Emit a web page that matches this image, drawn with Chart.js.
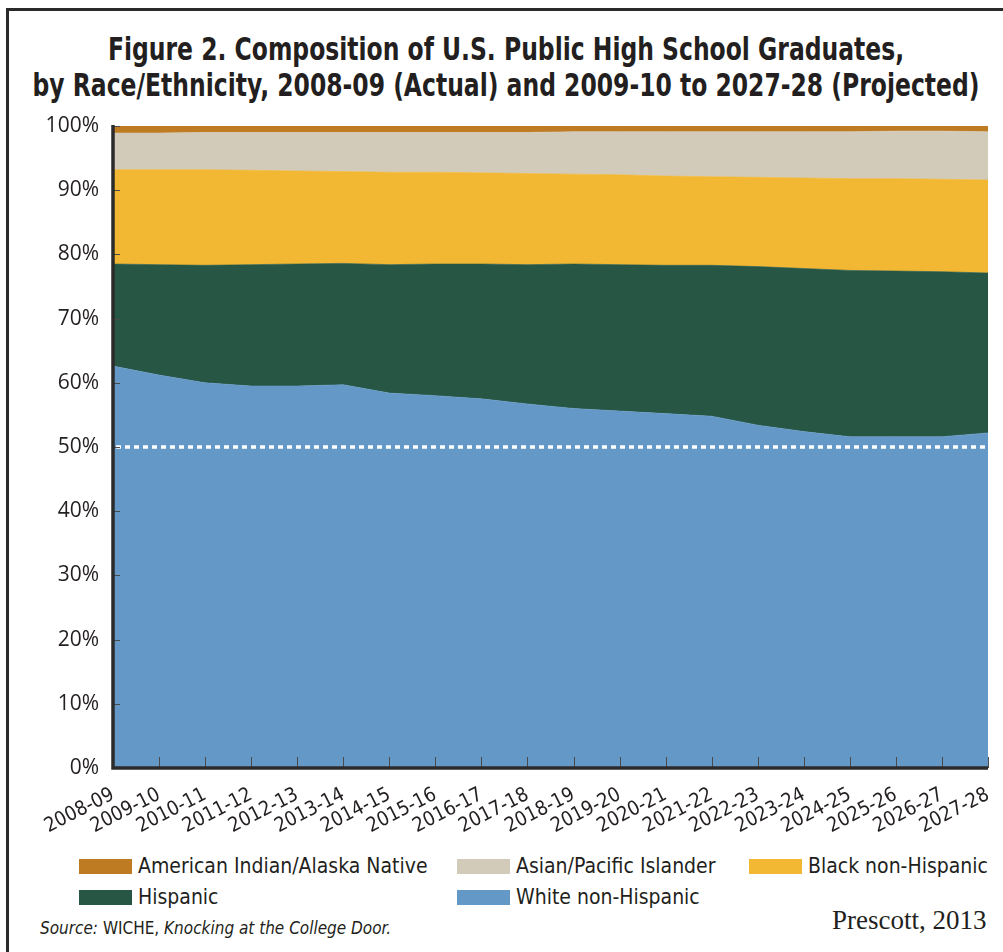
<!DOCTYPE html>
<html>
<head>
<meta charset="utf-8">
<script src="https://cdn.jsdelivr.net/npm/chart.js@4"></script>
<style>
  body { margin: 0; width: 1003px; height: 952px; background: #fff; position: relative; overflow: hidden; color: #231f20; }
  .frameTop { position: absolute; left: 6px; top: 8px; width: 997px; height: 3px; background: #2a2a2a; }
  .frameLeft { position: absolute; left: 6px; top: 8px; width: 3px; height: 944px; background: #2a2a2a; }
  #title { position: absolute; left: -144px; top: 31px; width: 1300px; text-align: center; font-family: "DejaVu Sans Condensed", "Liberation Sans Narrow", sans-serif; font-weight: bold; font-size: 32px; line-height: 36px; transform: scaleX(0.815); transform-origin: 50% 0; white-space: nowrap; }
  #wrap { position: absolute; left: 0; top: 0; width: 1003px; height: 850px; }
  .key { position: absolute; font-family: "DejaVu Sans Condensed", "Liberation Sans Narrow", sans-serif; font-size: 21px; line-height: 24px; white-space: nowrap; }
  .key span { display: inline-block; width: 53px; height: 15px; margin-right: 6px; vertical-align: -1px; }
  #source { position: absolute; left: 40px; top: 918px; font-family: "DejaVu Sans Condensed", "Liberation Sans Narrow", sans-serif; font-size: 17px; white-space: nowrap; }
  #credit { position: absolute; left: 832px; top: 905px; font-family: "Liberation Serif", serif; font-size: 27px; white-space: nowrap; }
</style>
</head>
<body>
<div class="frameTop"></div>
<div class="frameLeft"></div>
<div id="title">Figure 2. Composition of U.S. Public High School Graduates,<br>by Race/Ethnicity, 2008-09 (Actual) and 2009-10 to 2027-28 (Projected)</div>
<div id="wrap"><canvas id="areaChart"></canvas></div>
<div id="legendBox"></div>
<div id="source"><i>Source:</i> WICHE, <i>Knocking at the College Door.</i></div>
<div id="credit">Prescott, 2013</div>

<script>
const years = ["2008-09", "2009-10", "2010-11", "2011-12", "2012-13", "2013-14", "2014-15",
  "2015-16", "2016-17", "2017-18", "2018-19", "2019-20", "2020-21", "2021-22", "2022-23",
  "2023-24", "2024-25", "2025-26", "2026-27", "2027-28"];

// share of graduates, percent
const white    = [62.6, 61.2, 60.0, 59.5, 59.5, 59.7, 58.4, 58.0, 57.5, 56.7, 56.0, 55.6, 55.2, 54.8, 53.4, 52.4, 51.6, 51.6, 51.6, 52.2];
const hispanic = [15.9, 17.2, 18.3, 18.9, 19.0, 18.9, 20.0, 20.5, 21.0, 21.7, 22.5, 22.8, 23.1, 23.5, 24.7, 25.4, 25.9, 25.8, 25.7, 24.9];
const black    = [14.7, 14.8, 14.9, 14.7, 14.5, 14.3, 14.4, 14.3, 14.2, 14.2, 14.0, 14.0, 13.9, 13.8, 13.9, 14.1, 14.3, 14.4, 14.4, 14.5];
const asian    = [5.7, 5.7, 5.8, 5.9, 6.0, 6.1, 6.2, 6.2, 6.3, 6.4, 6.6, 6.7, 6.9, 7.0, 7.1, 7.2, 7.3, 7.4, 7.5, 7.5];
const amIndian = [1.1, 1.1, 1.0, 1.0, 1.0, 1.0, 1.0, 1.0, 1.0, 1.0, 0.9, 0.9, 0.9, 0.9, 0.9, 0.9, 0.9, 0.8, 0.8, 0.9];

const yTicks = [0, 10, 20, 30, 40, 50, 60, 70, 80, 90, 100];

const colors = {
  amIndian: "#bf7b22",
  asian: "#d3cbb9",
  black: "#f2b733",
  hispanic: "#275744",
  white: "#6498c6"
};

// legend in the printed order (3 columns)
const legendItems = [
  { label: "American Indian/Alaska Native", color: colors.amIndian, left: 79, top: 854 },
  { label: "Asian/Pacific Islander", color: colors.asian, left: 457, top: 854 },
  { label: "Black non-Hispanic", color: colors.black, left: 749, top: 854 },
  { label: "Hispanic", color: colors.hispanic, left: 79, top: 885 },
  { label: "White non-Hispanic", color: colors.white, left: 457, top: 885 }
];

const legendBox = document.getElementById("legendBox");
legendBox.innerHTML = legendItems.reduce((acc, item) => {
  return acc += `<div class="key" style="left:${item.left}px;top:${item.top}px"><span style="background:${item.color}"></span>${item.label}</div>`;
}, "");

function layer(label, values, color, fill) {
  return {
    label: label,
    data: values,
    backgroundColor: color,
    borderColor: color,
    borderWidth: 0.6,
    pointRadius: 0,
    pointHoverRadius: 0,
    tension: 0,
    fill: fill
  };
}

// dotted 50% line, inside ticks and the heavy axis lines go on top of the areas
const chartExtras = {
  id: "chartExtras",
  afterDatasetsDraw(chart) {
    const { ctx, chartArea: a, scales: { x, y } } = chart;
    ctx.save();

    const y50 = y.getPixelForValue(50);
    ctx.strokeStyle = "#ffffff";
    ctx.lineWidth = 3.5;
    ctx.setLineDash([5, 4]);
    ctx.beginPath();
    ctx.moveTo(a.left + 3, y50);
    ctx.lineTo(a.right, y50);
    ctx.stroke();
    ctx.setLineDash([]);

    ctx.strokeStyle = "#4a4a4a";
    ctx.lineWidth = 1;
    ctx.beginPath();
    x.ticks.forEach((t, i) => {
      const px = Math.round(x.getPixelForTick(i)) + 0.5;
      ctx.moveTo(px, a.bottom);
      ctx.lineTo(px, a.bottom - 11);
    });
    y.ticks.forEach((t, i) => {
      const py = Math.round(y.getPixelForTick(i)) + 0.5;
      ctx.moveTo(a.left, py);
      ctx.lineTo(a.left + 7, py);
    });
    ctx.stroke();

    ctx.strokeStyle = "#2b2b2b";
    ctx.lineWidth = 3.5;
    ctx.beginPath();
    ctx.moveTo(a.left, a.top - 1);
    ctx.lineTo(a.left, a.bottom);
    ctx.lineTo(a.right, a.bottom);
    ctx.stroke();
    ctx.restore();
  }
};

const ctx = document.getElementById("areaChart");
const chart = new Chart(ctx, {
  type: "line",
  data: {
    labels: years,
    datasets: [
      layer("White non-Hispanic", white, colors.white, "origin"),
      layer("Hispanic", hispanic, colors.hispanic, "-1"),
      layer("Black non-Hispanic", black, colors.black, "-1"),
      layer("Asian/Pacific Islander", asian, colors.asian, "-1"),
      layer("American Indian/Alaska Native", amIndian, colors.amIndian, "-1")
    ]
  },
  options: {
    responsive: true,
    maintainAspectRatio: false,
    animation: false,
    layout: { padding: { top: 126, right: 15, left: 0, bottom: 0 } },
    plugins: {
      legend: { display: false },
      title: { display: false },
      tooltip: { enabled: false }
    },
    scales: {
      x: {
        offset: false,
        grid: { display: false, drawTicks: false },
        border: { display: false },
        ticks: {
          autoSkip: false,
          minRotation: 27,
          maxRotation: 27,
          padding: 15,
          color: "#231f20",
          font: { family: "DejaVu Sans Condensed, Liberation Sans Narrow, sans-serif", size: 20 }
        },
        afterFit(scale) {
          scale.height = 82;
          scale.paddingLeft = 0;
          scale.paddingRight = 0;
        }
      },
      y: {
        stacked: true,
        min: 0,
        max: 100,
        afterBuildTicks(scale) { scale.ticks = yTicks.map(v => ({ value: v })); },
        grid: { display: false, drawTicks: false },
        border: { display: false },
        ticks: {
          padding: 14,
          color: "#231f20",
          font: { family: "Open Sans, sans-serif", size: 21 },
          callback: (v) => v + "%"
        },
        afterFit(scale) { scale.width = 113; }
      }
    }
  },
  plugins: [chartExtras]
});
</script>
</body>
</html>
